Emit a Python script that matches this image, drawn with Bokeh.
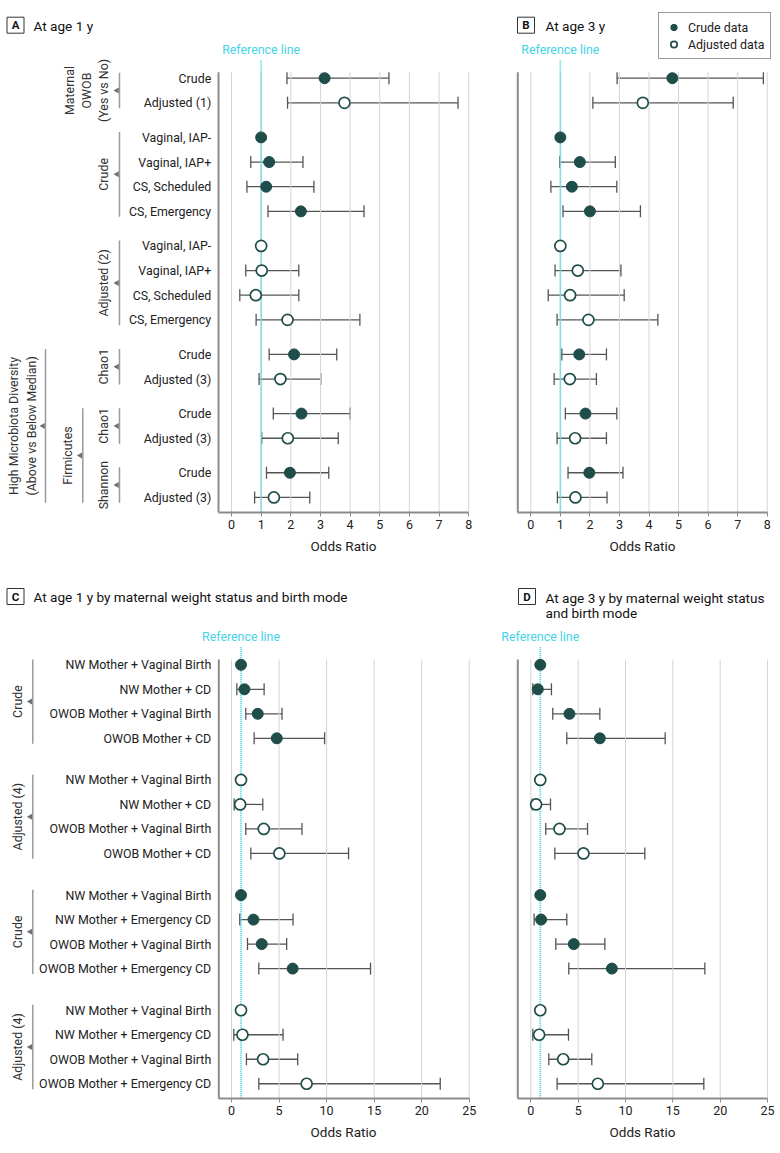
import math
from bokeh.plotting import figure
from bokeh.models import (Range1d, FixedTicker, ColumnDataSource, Whisker, TeeHead,
                          Legend, LegendItem, Title)
from bokeh.layouts import row, column
from bokeh.core.properties import value
from bokeh.embed import file_html
from bokeh.resources import INLINE

# ---------------- data ----------------
REF = 1.0

rows_AB = ["Crude", "Adjusted (1)",
           "Vaginal, IAP-", "Vaginal, IAP+", "CS, Scheduled", "CS, Emergency",
           "Vaginal, IAP-", "Vaginal, IAP+", "CS, Scheduled", "CS, Emergency",
           "Crude", "Adjusted (3)", "Crude", "Adjusted (3)", "Crude", "Adjusted (3)"]
kind_AB = ["crude", "adjusted",
           "crude", "crude", "crude", "crude",
           "adjusted", "adjusted", "adjusted", "adjusted",
           "crude", "adjusted", "crude", "adjusted", "crude", "adjusted"]
groups_AB = [2, 4, 4, 2, 2, 2]

or_A = [3.14, 3.81, 1.00, 1.27, 1.17, 2.34, 1.00, 1.02, 0.82, 1.89, 2.11, 1.65, 2.36, 1.90, 1.97, 1.43]
lo_A = [1.87, 1.89, None, 0.65, 0.52, 1.23, None, 0.48, 0.28, 0.83, 1.27, 0.93, 1.41, 1.02, 1.18, 0.78]
hi_A = [5.31, 7.64, None, 2.41, 2.78, 4.47, None, 2.27, 2.27, 4.33, 3.55, 3.01, 4.00, 3.60, 3.28, 2.64]

or_B = [4.79, 3.79, 1.00, 1.66, 1.39, 2.00, 1.00, 1.59, 1.33, 1.95, 1.64, 1.32, 1.85, 1.50, 1.98, 1.51]
lo_B = [2.92, 2.10, None, 0.98, 0.68, 1.09, None, 0.82, 0.59, 0.89, 1.05, 0.79, 1.17, 0.89, 1.26, 0.90]
hi_B = [7.87, 6.85, None, 2.86, 2.91, 3.71, None, 3.05, 3.16, 4.30, 2.56, 2.22, 2.91, 2.56, 3.12, 2.58]

rows_CD = ["NW Mother + Vaginal Birth", "NW Mother + CD",
           "OWOB Mother + Vaginal Birth", "OWOB Mother + CD",
           "NW Mother + Vaginal Birth", "NW Mother + CD",
           "OWOB Mother + Vaginal Birth", "OWOB Mother + CD",
           "NW Mother + Vaginal Birth", "NW Mother + Emergency CD",
           "OWOB Mother + Vaginal Birth", "OWOB Mother + Emergency CD",
           "NW Mother + Vaginal Birth", "NW Mother + Emergency CD",
           "OWOB Mother + Vaginal Birth", "OWOB Mother + Emergency CD"]
kind_CD = ["crude"] * 4 + ["adjusted"] * 4 + ["crude"] * 4 + ["adjusted"] * 4
groups_CD = [4, 4, 4, 4]

or_C = [1.00, 1.36, 2.76, 4.76, 1.00, 0.91, 3.39, 5.03, 1.00, 2.31, 3.18, 6.43, 1.00, 1.15, 3.32, 7.90]
lo_C = [None, 0.56, 1.50, 2.38, None, 0.28, 1.50, 2.03, None, 0.87, 1.68, 2.87, None, 0.24, 1.57, 2.87]
hi_C = [None, 3.43, 5.31, 9.79, None, 3.29, 7.41, 12.31, None, 6.47, 5.80, 14.62, None, 5.42, 6.96, 21.95]

or_D = [1.00, 0.74, 4.08, 7.29, 1.00, 0.56, 3.03, 5.56, 1.00, 1.09, 4.54, 8.56, 1.00, 0.88, 3.42, 7.08]
lo_D = [None, 0.21, 2.32, 3.80, None, 0.14, 1.58, 2.54, None, 0.35, 2.64, 4.01, None, 0.21, 1.90, 2.78]
hi_D = [None, 2.18, 7.29, 14.19, None, 2.08, 5.99, 12.04, None, 3.80, 7.82, 18.38, None, 3.98, 6.44, 18.27]

ticks_AB = [0, 1, 2, 3, 4, 5, 6, 7, 8]
ticks_CD = [0, 5, 10, 15, 20, 25]

# ---------------- styles ----------------
FONT = "Roboto"
DOT = "#1f4d4a"
BAR = "#555555"
CYAN = "#45d3e6"
GRID = "#d4d4d4"
AXIS = "#8c8c8c"
TXT = "#222222"
ROWFS = "12.4px"


def slots(sizes, gap):
    out, y = [], 0.0
    for s in sizes:
        for _ in range(s):
            out.append(round(y, 3))
            y += 1
        y += gap
    return out


def make_fig(width, height, bb, zero_px, ppu, page_x0, page_y0, row0, pitch):
    x0 = (page_x0 - zero_px) / ppu
    x1 = (page_x0 + width - zero_px) / ppu
    ytop = (page_y0 - row0) / pitch
    ybot = (page_y0 + height - bb - row0) / pitch
    p = figure(width=width, height=height, x_range=Range1d(x0, x1),
               y_range=Range1d(ybot, ytop), output_backend="svg",
               toolbar_location=None, y_axis_type=None,
               min_border_left=0, min_border_right=0, min_border_top=0,
               min_border_bottom=bb, outline_line_color=None,
               background_fill_color="white", border_fill_color="white")
    p.grid.visible = False
    X = lambda px: (px - zero_px) / ppu
    Y = lambda py: (py - row0) / pitch
    return p, X, Y, ybot


def txt(p, x, y, s, size, color=TXT, align="left", baseline="middle", angle=0.0, style="normal"):
    p.text(x=[x], y=[y], text=[s], text_font=value(FONT), text_font_size=size,
           text_color=color, text_align=align, text_baseline=baseline,
           angle=angle, text_font_style=style)


def draw_panel(p, X, Y, ybot, ypos, orv, lo, hi, kind, ticks, xb0,
               frame_top_py, ref_top_py, ref_label_py, label_offset):
    n = len(ticks)
    ft = Y(frame_top_py)
    p.segment(x0=ticks, y0=[ft] * n, x1=ticks, y1=[ybot] * n,
              line_color=GRID, line_width=1)
    p.segment(x0=[xb0], y0=[ft], x1=[xb0], y1=[ybot], line_color=AXIS, line_width=2)
    p.segment(x0=[REF], y0=[Y(ref_top_py)], x1=[REF], y1=[ybot],
              line_color=CYAN, line_width=1.8, line_dash="1 1")
    txt(p, REF, Y(ref_label_py), "Reference line", "12.4px", color=CYAN, align="center")

    wy = [y for y, l in zip(ypos, lo) if l is not None]
    wl = [l for l in lo if l is not None]
    wh = [h for h in hi if h is not None]
    src = ColumnDataSource(dict(y=wy, lo=wl, hi=wh))
    w = Whisker(source=src, base="y", lower="lo", upper="hi", dimension="width",
                line_color=BAR, line_width=1.3,
                lower_head=TeeHead(size=12, line_color=BAR, line_width=1.3),
                upper_head=TeeHead(size=12, line_color=BAR, line_width=1.3))
    p.add_layout(w)

    cx = [o for o, k in zip(orv, kind) if k == "crude"]
    cy = [y for y, k in zip(ypos, kind) if k == "crude"]
    ax_ = [o for o, k in zip(orv, kind) if k == "adjusted"]
    ay = [y for y, k in zip(ypos, kind) if k == "adjusted"]
    rc = p.scatter(x=cx, y=cy, marker="circle", size=11, fill_color=DOT, line_color=DOT, line_width=1)
    ra = p.scatter(x=ax_, y=ay, marker="circle", size=11, fill_color="white", line_color=DOT, line_width=1.7)

    ax = p.xaxis[0]
    ax.ticker = FixedTicker(ticks=ticks)
    ax.bounds = (xb0, ticks[-1])
    ax.axis_line_color = AXIS
    ax.axis_line_width = 2
    ax.major_tick_line_color = AXIS
    ax.major_tick_out = 4
    ax.major_tick_in = 0
    ax.minor_tick_line_color = None
    ax.major_label_text_font = FONT
    ax.major_label_text_font_size = "12.5px"
    ax.major_label_text_color = TXT
    ax.major_label_standoff = 3
    t = Title(text="Odds Ratio", align="left", offset=label_offset,
              text_font=FONT, text_font_size="13.5px", text_font_style="normal",
              text_color=TXT, standoff=9)
    p.add_layout(t, "below")
    return rc, ra


def row_labels(p, X, ypos, labels, x_px):
    p.text(x=[X(x_px)] * len(labels), y=ypos, text=labels, text_font=value(FONT),
           text_font_size=ROWFS, text_color=TXT, text_align="right",
           text_baseline="middle")


def bracket(p, X, ypos, first, last, lines, label_xs, line_x, tri_x):
    top = ypos[first] - 0.22
    bot = ypos[last] + 0.22
    mid = (top + bot) / 2
    p.segment(x0=[X(line_x)], y0=[top], x1=[X(line_x)], y1=[bot],
              line_color="#9a9a9a", line_width=1.5)
    p.scatter(x=[X(tri_x)], y=[mid], marker="triangle", angle=math.pi / 2,
              size=6, fill_color="#707070", line_color=None)
    for s, lx in zip(lines, label_xs):
        txt(p, X(lx), mid, s, ROWFS, color="#333333", align="center", angle=math.pi / 2)


def title(p, X, Y, letter, bx, by, lines, tx, tys):
    p.rect(x=[X(bx)], y=[Y(by)], width=17, height=16, width_units="screen",
           height_units="screen", fill_color="white", line_color="#333333", line_width=1)
    txt(p, X(bx), Y(by), letter, "11.5px", color="#111111", align="center", style="bold")
    for s, ty in zip(lines, tys):
        txt(p, X(tx), Y(ty), s, "13.6px", color="#111111")


y_AB = slots(groups_AB, 0.4)
y_CD = slots(groups_CD, 0.7)

# ---------------- Panel A ----------------
pA, XA, YA, ybA = make_fig(498, 570, 58, 231.0, 29.65, 0, 0, 77.7, 24.66)
draw_panel(pA, XA, YA, ybA, y_AB, or_A, lo_A, hi_A, kind_AB, ticks_AB, XA(218.0),
           71.7, 60, 49.3, 310)
row_labels(pA, XA, y_AB, rows_AB, 210.7)
bracket(pA, XA, y_AB, 0, 1, ["Maternal", "OWOB", "(Yes vs No)"], [69, 86, 103], 119, 116.5)
bracket(pA, XA, y_AB, 2, 5, ["Crude"], [103], 119, 116.5)
bracket(pA, XA, y_AB, 6, 9, ["Adjusted (2)"], [103], 119, 116.5)
bracket(pA, XA, y_AB, 10, 11, ["Chao1"], [103], 119, 116.5)
bracket(pA, XA, y_AB, 12, 13, ["Chao1"], [103], 119, 116.5)
bracket(pA, XA, y_AB, 14, 15, ["Shannon"], [103], 119, 116.5)
bracket(pA, XA, y_AB, 12, 15, ["Firmicutes"], [66.7], 82.3, 79.8)
bracket(pA, XA, y_AB, 10, 15, ["High Microbiota Diversity", "(Above vs Below Median)"],
        [13.3, 31], 45, 42.5)
title(pA, XA, YA, "A", 15, 24.7, ["At age 1 y"], 33, [25])

# ---------------- Panel B ----------------
pB, XB, YB, ybB = make_fig(282, 570, 58, 530.3, 29.55, 498, 0, 77.7, 24.66)
rcB, raB = draw_panel(pB, XB, YB, ybB, y_AB, or_B, lo_B, hi_B, kind_AB, ticks_AB,
                      XB(517.3), 71.7, 60, 49.3, 111)
title(pB, XB, YB, "B", 525.5, 24.7, ["At age 3 y"], 545, [25])
legend = Legend(items=[LegendItem(label="Crude data", renderers=[rcB]),
                       LegendItem(label="Adjusted data", renderers=[raB])],
                location=(160, 453), glyph_width=17, glyph_height=16, label_height=16,
                label_standoff=6, padding=6, spacing=1, margin=0,
                border_line_color="#333333", border_line_width=1,
                background_fill_color="white", background_fill_alpha=1.0,
                label_text_font=FONT, label_text_font_size="12.4px",
                label_text_color=TXT)
pB.add_layout(legend)

# ---------------- Panel C ----------------
pC, XC, YC, ybC = make_fig(498, 582, 54, 231.0, 9.51, 0, 570, 664.3, 24.5)
draw_panel(pC, XC, YC, ybC, y_CD, or_C, lo_C, hi_C, kind_CD, ticks_CD, XC(218.3),
           659, 646.7, 636, 310)
row_labels(pC, XC, y_CD, rows_CD, 210.7)
bracket(pC, XC, y_CD, 0, 3, ["Crude"], [16.7], 32.3, 29.8)
bracket(pC, XC, y_CD, 4, 7, ["Adjusted (4)"], [16.7], 32.3, 29.8)
bracket(pC, XC, y_CD, 8, 11, ["Crude"], [16.7], 32.3, 29.8)
bracket(pC, XC, y_CD, 12, 15, ["Adjusted (4)"], [16.7], 32.3, 29.8)
title(pC, XC, YC, "C", 15, 596, ["At age 1 y by maternal weight status and birth mode"], 33, [596])

# ---------------- Panel D ----------------
pD, XD, YD, ybD = make_fig(282, 582, 54, 530.3, 9.47, 498, 570, 664.3, 24.5)
draw_panel(pD, XD, YD, ybD, y_CD, or_D, lo_D, hi_D, kind_CD, ticks_CD, XD(517.3),
           659, 646.7, 636, 111)
title(pD, XD, YD, "D", 526.5, 596, ["At age 3 y by maternal weight status", "and birth mode"],
      545, [597, 612.7])

layout = column(row(pA, pB), row(pC, pD))
open("out.html", "w").write(file_html(layout, INLINE))
